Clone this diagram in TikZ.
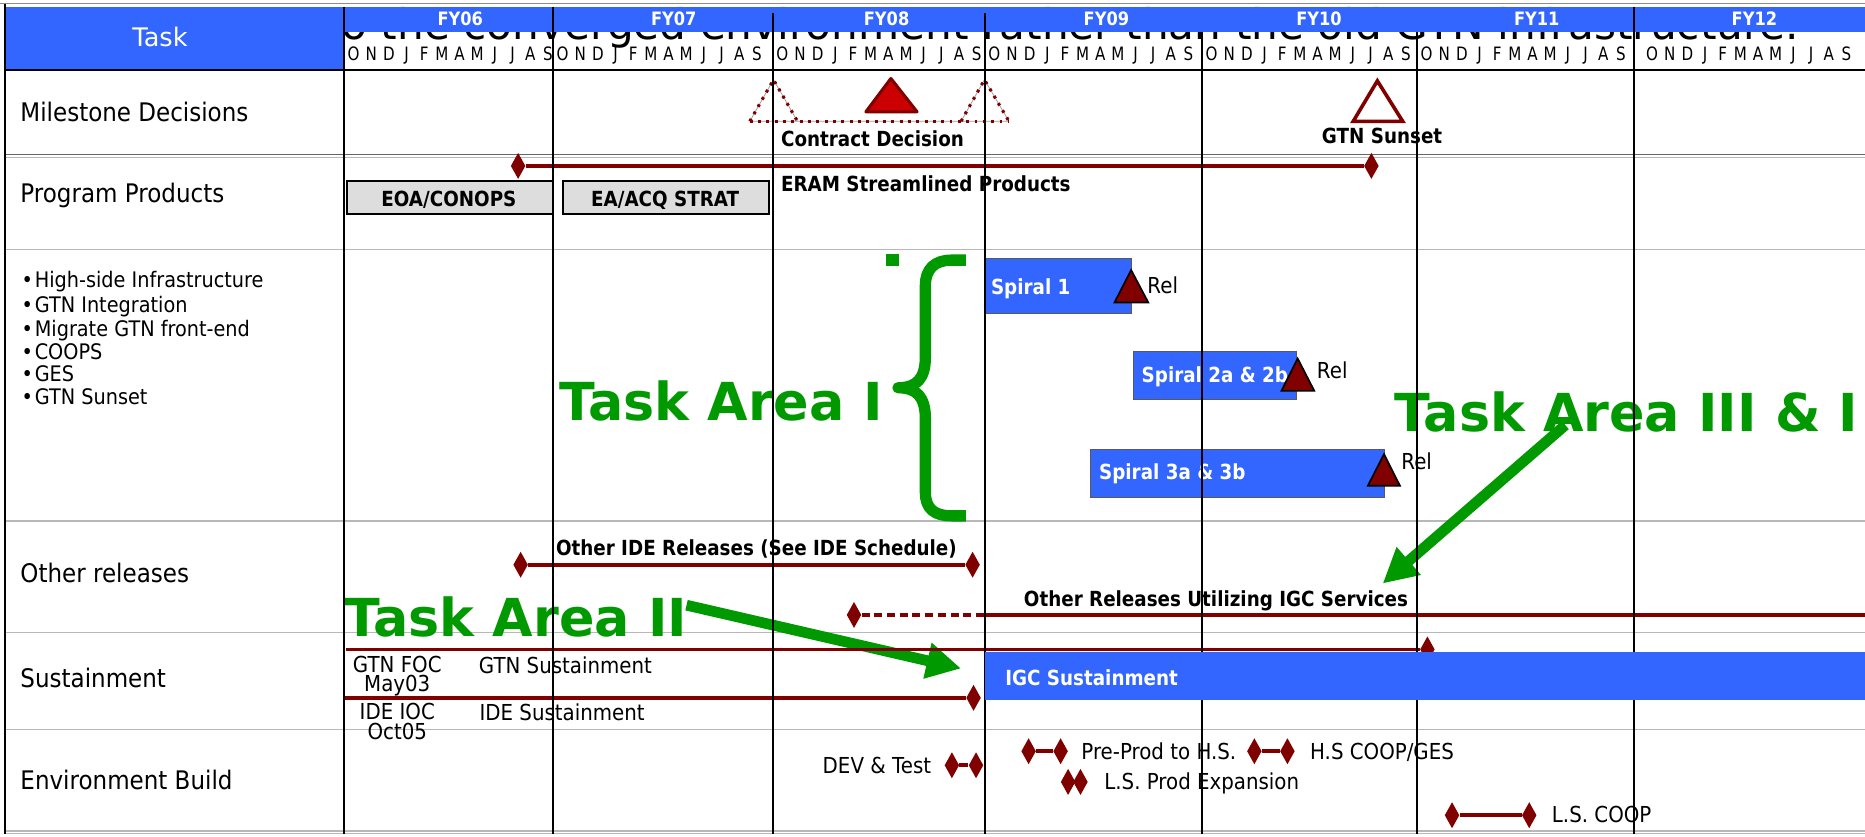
\documentclass[tikz,border=0pt]{standalone}
\usepackage{fontspec}
\setmainfont{DejaVu Sans}
\newfontfamily\labf{DejaVu Sans}[FakeStretch=0.9]
\newfontfamily\monf{DejaVu Sans}[FakeStretch=0.82]
\newfontfamily\bcf{DejaVu Sans}[FakeStretch=0.88]
\newfontfamily\grf{DejaVu Sans}
\usetikzlibrary{shapes.geometric,arrows.meta}
\definecolor{sblue}{HTML}{3366FF}
\definecolor{tgreen}{HTML}{009900}
\definecolor{dred}{HTML}{800000}
\definecolor{tred}{HTML}{CC0000}
\definecolor{boxgray}{HTML}{DDDDDD}
\tikzset{
  llab/.style={font=\labf\fontsize{21.5}{24}\selectfont, inner sep=0, anchor=base west},
  slab/.style={font=\labf\fontsize{18.5}{20}\selectfont, inner sep=0, anchor=base west},
  blist/.style={font=\labf\fontsize{18}{20}\selectfont, inner sep=0, anchor=base west},
  mon/.style={font=\monf\fontsize{15.5}{17}\selectfont, inner sep=0, anchor=base},
  fylab/.style={font=\bcf\bfseries\fontsize{15.5}{17}\selectfont, text=white, inner sep=0, anchor=base},
  blab/.style={font=\bcf\bfseries\fontsize{17.5}{20}\selectfont, inner sep=0, anchor=base west},
  wlab/.style={blab, text=white},
  gtext/.style={font=\grf\bfseries\fontsize{44}{48}\selectfont, text=tgreen, inner sep=0, anchor=base west},
  sbar/.style={fill=sblue, draw=none, inner sep=0, anchor=north west},
  spbar/.style={sbar, draw=black!65, line width=0.8pt},
  gbox/.style={fill=boxgray, draw=black, line width=1.6pt, inner sep=0, anchor=north west},
  dia/.style={shape=diamond, fill=dred, draw=none, inner sep=0, minimum width=12.3pt, minimum height=22pt},
  redln/.style={draw=dred, line width=3pt},
  vline/.style={draw=black, line width=1.4pt},
  rowsep/.style={draw=black!28, line width=1.2pt},
  garrow/.style={draw=tgreen, line width=9pt, -{Triangle[length=29pt,width=29pt]}},
  dotln/.style={draw=dred, line width=2.6pt, dash pattern=on 2.4pt off 4.6pt},
  reltri/.style={fill=dred, draw=black, line width=1.4pt, line join=miter},
}
\begin{document}
\begin{tikzpicture}[x=1pt,y=-1pt]
\useasboundingbox (0,0) rectangle (1568,703);
\fill[white] (0,0) rectangle (1568,703);
\clip (0,0) rectangle (1568,703);

% text partly hidden behind the header
\node[font=\grf\fontsize{35.5}{40}\selectfont, inner sep=0, anchor=base west] (bgtext) at (287,33.6) {o the converged environment rather than the old GTN infrastructure.};

% header
\fill[sblue] (289.3,5.6) rectangle (1568,26.6);
\node[fill=sblue, inner sep=0, anchor=north west, minimum width=285pt, minimum height=53.4pt] (taskbox) at (4.3,5.6) {};
\node[font=\grf\fontsize{21.5}{24}\selectfont, text=white, inner sep=0, anchor=base] (tasklbl) at (134.5,39.2) {Task};
\foreach \x/\t in {387/FY06,566.5/FY07,745.4/FY08,930.2/FY09,1109/FY10,1292/FY11,1475/FY12}
  \node[fylab] (\t) at (\x,21.5) {\t};
\foreach \s [count=\k] in {297.3,473,657.8,835.9,1018.6,1199.4,1389} {
  \foreach \m [count=\i] in {O,N,D,J,F,M,A,M,J,J,A,S} {
    \node[mon] (m\k-\i) at ({\s+(\i-1)*14.85},50.8) {\m};
  }
}
\draw[black!45, line width=1pt] (0,3) -- (1568,3);
\draw[black, line width=2pt] (4.3,59) -- (1568,59);

% row separators
\draw[black!60, line width=1pt] (4.3,129.8) -- (1568,129.8);
\foreach \y in {132.3, 209.7, 438.2, 532, 613.4, 698.6, 701}
  \draw[rowsep] (4.3,\y) -- (1568,\y);
\draw[black, line width=1.5pt] (4.3,3) -- (4.3,701);

% left column labels
\node[llab] (lms) at (17,102.3) {Milestone Decisions};
\node[llab] (lpp) at (17,170.5) {Program Products};
\node[blist] (b1) at (18,241.7) {•\hspace{1.5pt}High-side Infrastructure};
\node[blist] (b2) at (18,263) {•\hspace{1.5pt}GTN Integration};
\node[blist] (b3) at (18,282.6) {•\hspace{1.5pt}Migrate GTN front-end};
\node[blist] (b4) at (18,302.2) {•\hspace{1.5pt}COOPS};
\node[blist] (b5) at (18,321) {•\hspace{1.5pt}GES};
\node[blist] (b6) at (18,340) {•\hspace{1.5pt}GTN Sunset};
\node[llab] (lor) at (17,490) {Other releases};
\node[llab] (lsu) at (17,578) {Sustainment};
\node[llab] (leb) at (17,663.8) {Environment Build};

% milestone decisions
\draw[black!40, line width=0.6pt] (630.4,102) -- (650.3,67) -- (670.5,102) (808,102) -- (827.7,67) -- (848.3,102) (630.4,102) -- (848.3,102);
\draw[dotln] (630.4,102) -- (650.3,67) -- (670.5,102);
\draw[dotln] (808,102) -- (827.7,67) -- (848.3,102);
\draw[dotln] (630.4,102) -- (848.3,102);
\draw[fill=tred, draw=dred, line width=2.6pt, line join=round] (749,66) -- (771,94) -- (728,94) -- cycle;
\node[blab] (cdec) at (656.5,123.4) {Contract Decision};
\draw[fill=white, draw=dred, line width=3pt, line join=miter] (1158,68) -- (1179.3,102) -- (1137.7,102) -- cycle;
\node[blab, anchor=base] (gsun) at (1162,121) {GTN Sunset};

% program products
\node[dia] (pp1) at (435.6,139.5) {};
\node[dia] (pp2) at (1153,139.5) {};
\draw[redln] (pp1) -- (pp2);
\node[gbox, minimum width=172.8pt, minimum height=28pt] (eoa) at (291,151) {};
\node[blab, anchor=base] (eoat) at (377.4,173.8) {EOA/CONOPS};
\node[gbox, minimum width=173.6pt, minimum height=28pt] (eaacq) at (472.4,151) {};
\node[blab, anchor=base] (eaacqt) at (559.2,173.8) {EA/ACQ STRAT};
\node[blab] (eram) at (656.5,161.2) {ERAM Streamlined Products};

% task area I
\node[gtext] (ta1) at (470,353.2) {Task Area I};
\fill[tgreen] (744.6,213.6) rectangle (756.2,223.7);
\draw[tgreen, line width=9.5pt, line join=round] (812,218.7) -- (800,218.7) .. controls (786,218.7) and (778,226) .. (778,240) -- (778,300) .. controls (778,318) and (771,326) .. (755,326) .. controls (771,326) and (778,334) .. (778,352) -- (778,414) .. controls (778,428) and (786,433.7) .. (800,433.7) -- (812,433.7);

% spirals
\node[spbar, minimum width=122.7pt, minimum height=46.2pt] (sp1) at (828.3,217.3) {};
\node[wlab] (sp1t) at (833,248) {Spiral 1};
\draw[reltri] (951,227) -- (965.4,254.3) -- (937,254.3) -- cycle;
\node[slab] (rel1) at (964.5,246.7) {Rel};
\node[spbar, minimum width=137.8pt, minimum height=40.9pt] (sp2) at (952.2,294.9) {};
\node[wlab] (sp2t) at (959.7,321.8) {Spiral 2a \& 2b};
\draw[reltri] (1091,301.4) -- (1105,328.6) -- (1077.4,328.6) -- cycle;
\node[slab] (rel2) at (1107,318.2) {Rel};
\node[spbar, minimum width=247.5pt, minimum height=40.1pt] (sp3) at (916.2,377.6) {};
\node[wlab] (sp3t) at (923.9,403) {Spiral 3a \& 3b};
\draw[reltri] (1163.6,381.8) -- (1177,408.4) -- (1150,408.4) -- cycle;
\node[slab] (rel3) at (1178,394.7) {Rel};

% task area III & IV
\node[gtext] (ta3) at (1172.4,363) {Task Area III \& I};
\coordinate (a3s) at (1316,357.4);
\coordinate (a3e) at (1162.5,490.6);
\draw[garrow] (a3s) -- (a3e);

% other releases
\node[blab] (oide) at (467.3,467) {Other IDE Releases (See IDE Schedule)};
\node[dia] (oi1) at (437.7,474.8) {};
\node[dia] (oi2) at (817.7,474.8) {};
\draw[redln] (oi1) -- (oi2);
\node[blab] (origc) at (860.7,509.6) {Other Releases Utilizing IGC Services};
\node[dia] (or1) at (718,517) {};
\coordinate (or2) at (827.5,517);
\coordinate (or3) at (1568,517);
\draw[redln, dash pattern=on 6.7pt off 4pt] (or1) -- (or2);
\draw[redln] (or2) -- (or3);

% task area II
\node[gtext] (ta2) at (289.4,535.4) {Task Area II};
\coordinate (a2s) at (577.2,508.8);
\coordinate (a2e) at (808,562);
\draw[garrow] (a2s) -- (a2e);

% sustainment
\coordinate (su1a) at (291.3,546);
\node[dia] (su1b) at (1200.1,546) {};
\draw[redln] (su1a) -- (su1b);
\coordinate (su2a) at (288,586.7);
\node[dia] (su2b) at (818.5,586.7) {};
\draw[redln] (su2a) -- (su2b);
\node[slab, anchor=base] (gfoc) at (334,565) {GTN FOC};
\node[slab, anchor=base] (gfocd) at (334,581.7) {May03};
\node[slab] (gsus) at (402.4,566.3) {GTN Sustainment};
\node[slab, anchor=base] (iioc) at (334,605) {IDE IOC};
\node[slab, anchor=base] (iiocd) at (334,621.8) {Oct05};
\node[slab] (isus) at (403,605.5) {IDE Sustainment};

% environment build
\node[slab, anchor=base east] (devt) at (783,650.4) {DEV \& Test};
\node[dia] (dv1) at (800.3,643.4) {};
\node[dia] (dv2) at (820.6,643.4) {};
\draw[redln] (dv1) -- (dv2);
\node[dia] (pp3) at (864.8,631.6) {};
\node[dia] (pp4) at (891.7,631.6) {};
\draw[redln] (pp3) -- (pp4);
\node[slab] (pret) at (909,638.6) {Pre-Prod to H.S.};
\node[dia] (hs1) at (1054.6,631.6) {};
\node[dia] (hs2) at (1082.4,631.6) {};
\draw[redln] (hs1) -- (hs2);
\node[slab] (hst) at (1101.3,638.6) {H.S COOP/GES};
\node[dia] (lp1) at (898,657.4) {};
\node[dia] (lp2) at (908.4,657.4) {};
\node[slab] (lpt) at (928.3,663.8) {L.S. Prod Expansion};
\node[dia] (lc1) at (1220.8,685.4) {};
\node[dia] (lc2) at (1285.7,685.4) {};
\draw[redln] (lc1) -- (lc2);
\node[slab] (lct) at (1304.6,691.9) {L.S. COOP};

% vertical grid lines
\draw[vline] (289.3,5.6) -- (289.3,701);
\draw[vline] (465,5.6) -- (465,701);
\draw[vline] (649.8,11.2) -- (649.8,701);
\draw[vline] (827.9,11.2) -- (827.9,701);
\draw[vline] (1010.6,26.6) -- (1010.6,701);
\draw[vline] (1191.4,26.6) -- (1191.4,701);
\draw[vline] (1373.8,5.6) -- (1373.8,701);

% IGC sustainment bar (on top of the grid)
\node[sbar, minimum width=740pt, minimum height=40pt] (igc) at (828.2,548) {};
\node[wlab] (igct) at (845,576.6) {IGC Sustainment};
\end{tikzpicture}
\end{document}
